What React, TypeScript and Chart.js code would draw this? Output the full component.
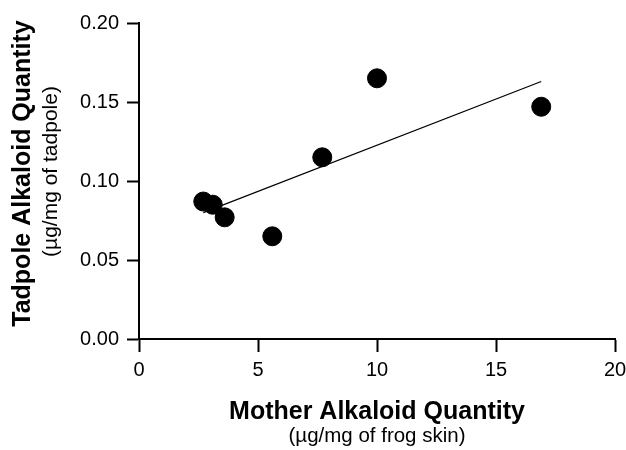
import React, { useEffect, useRef } from "react";
import { Chart, registerables } from "chart.js";

Chart.register(...registerables);

// Mother alkaloid quantity (µg/mg of frog skin)
const motherX = [2.7, 3.1, 3.6, 5.6, 7.7, 10.0, 16.9];
// Tadpole alkaloid quantity (µg/mg of tadpole)
const tadpoleY = [0.087, 0.085, 0.077, 0.065, 0.115, 0.165, 0.147];
// Linear fit end points
const fitX = [2.7, 16.9];
const fitY = [0.080, 0.163];

const xTicks = [0, 5, 10, 15, 20];
const yTicks = [0.0, 0.05, 0.1, 0.15, 0.2];

const xTitle = "Mother Alkaloid Quantity";
const xSubtitle = "(µg/mg of frog skin)";
const yTitle = "Tadpole Alkaloid Quantity";
const ySubtitle = "(µg/mg of tadpole)";

const FONT = "'Liberation Sans', Arial, Helvetica, sans-serif";

const titlesPlugin = {
  id: "titles",
  afterDraw(chart: any) {
    const { ctx, chartArea } = chart;
    const cx = (chartArea.left + chartArea.right) / 2;
    ctx.save();
    ctx.fillStyle = "#000";
    ctx.textAlign = "center";
    ctx.textBaseline = "alphabetic";
    ctx.font = `bold 25px ${FONT}`;
    ctx.fillText(xTitle, cx, 419);
    ctx.font = `20.5px ${FONT}`;
    ctx.fillText(xSubtitle, cx, 442);

    ctx.save();
    ctx.translate(30, 173.5);
    ctx.rotate(-Math.PI / 2);
    ctx.font = `bold 25px ${FONT}`;
    ctx.fillText(yTitle, 0, 0);
    ctx.restore();

    ctx.save();
    ctx.translate(57, 171.5);
    ctx.rotate(-Math.PI / 2);
    ctx.font = `21px ${FONT}`;
    ctx.fillText(ySubtitle, 0, 0);
    ctx.restore();

    ctx.restore();
  },
};

export default function App() {
  const ref = useRef<HTMLCanvasElement | null>(null);

  useEffect(() => {
    if (!ref.current) return;
    const chart = new Chart(ref.current, {
      type: "scatter",
      data: {
        datasets: [
          {
            type: "scatter",
            data: motherX.map((x, i) => ({ x, y: tadpoleY[i] })),
            backgroundColor: "#000",
            borderColor: "#000",
            pointRadius: 9.5,
            pointHoverRadius: 9.5,
            order: 1,
          },
          {
            type: "line",
            data: fitX.map((x, i) => ({ x, y: fitY[i] })),
            borderColor: "#000",
            borderWidth: 1.2,
            pointRadius: 0,
            fill: false,
            order: 2,
          } as any,
        ],
      },
      options: {
        animation: false,
        responsive: true,
        maintainAspectRatio: false,
        layout: { padding: { left: 0, top: 23, right: 11, bottom: 0 } },
        plugins: {
          legend: { display: false },
          tooltip: { enabled: false },
        },
        scales: {
          x: {
            type: "linear",
            min: 0,
            max: 20,
            afterBuildTicks: (scale: any) => {
              scale.ticks = xTicks.map((v) => ({ value: v }));
            },
            afterFit: (scale: any) => {
              scale.height = 450 - 339;
              scale.paddingLeft = 0;
              scale.paddingRight = 0;
            },
            ticks: {
              color: "#000",
              font: { family: FONT, size: 20 },
              padding: 6,
              callback: (v: any) => String(v),
            },
            grid: {
              drawOnChartArea: false,
              drawTicks: true,
              tickLength: 13,
              tickWidth: 2,
              tickColor: "#000",
            },
            border: { display: true, color: "#000", width: 2 },
          },
          y: {
            type: "linear",
            min: 0,
            max: 0.2,
            afterBuildTicks: (scale: any) => {
              scale.ticks = yTicks.map((v) => ({ value: v }));
            },
            afterFit: (scale: any) => {
              scale.width = 139;
              scale.paddingTop = 0;
              scale.paddingBottom = 0;
            },
            ticks: {
              color: "#000",
              font: { family: FONT, size: 20 },
              padding: 8,
              callback: (v: any) => Number(v).toFixed(2),
            },
            grid: {
              drawOnChartArea: false,
              drawTicks: true,
              tickLength: 12,
              tickWidth: 2,
              tickColor: "#000",
            },
            border: { display: true, color: "#000", width: 2 },
          },
        },
      },
      plugins: [titlesPlugin],
    });
    return () => chart.destroy();
  }, []);

  return (
    <div style={{ position: "fixed", left: 0, top: 0, width: 626, height: 450, background: "#fff" }}>
      <canvas ref={ref} />
    </div>
  );
}
